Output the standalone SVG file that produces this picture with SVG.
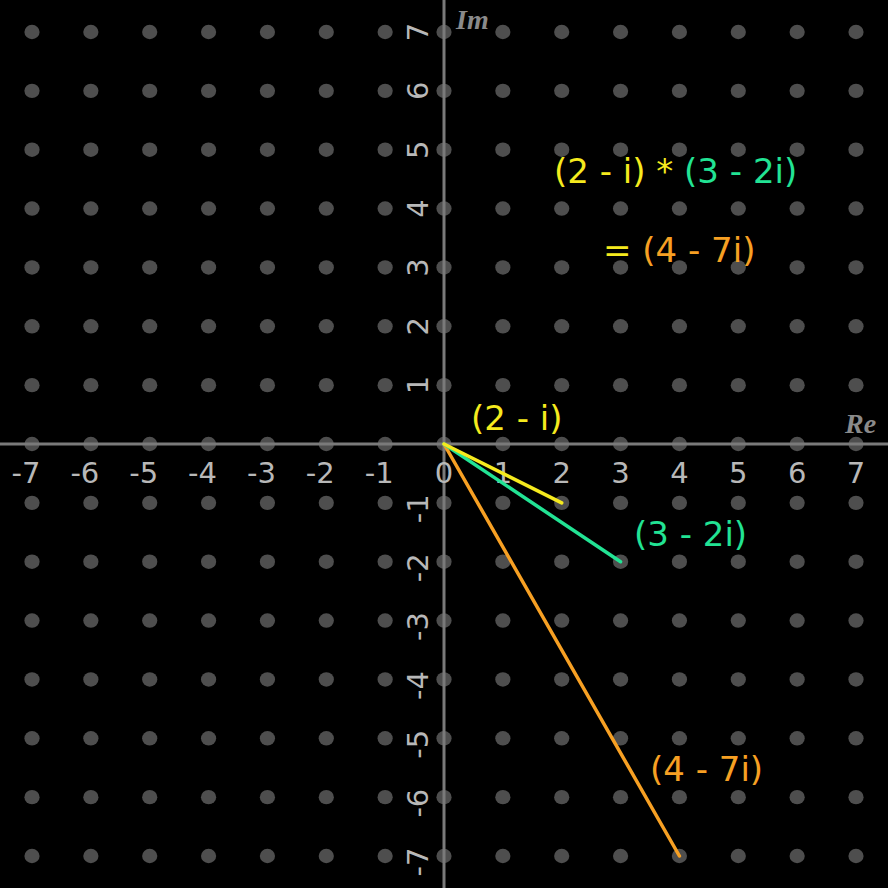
<svg xmlns="http://www.w3.org/2000/svg" xmlns:xlink="http://www.w3.org/1999/xlink" width="888" height="888" viewBox="0 0 888 888">
<style>
.dot{fill:#4e4e4e}
.axis{stroke:#7a7a7a;stroke-width:3}
.tick{font-family:"DejaVu Sans",sans-serif;font-size:29px;fill:#b8b8b8;text-anchor:middle}
.axn{font-family:"Liberation Serif",serif;font-style:italic;font-weight:bold;font-size:28px;fill:#8a8a8a}
.lbl{font-family:"DejaVu Sans",sans-serif;font-size:34px}
.y{fill:#f5ea1e}.g{fill:#22e394}.o{fill:#f7a023}
.vec{stroke-width:3.5;stroke-linecap:round;fill:none}
</style>
<defs>
<g id="row">
<ellipse class="dot" cx="32" cy="0" rx="7.6" ry="7.2"/><ellipse class="dot" cx="90.86" cy="0" rx="7.6" ry="7.2"/><ellipse class="dot" cx="149.71" cy="0" rx="7.6" ry="7.2"/><ellipse class="dot" cx="208.57" cy="0" rx="7.6" ry="7.2"/><ellipse class="dot" cx="267.43" cy="0" rx="7.6" ry="7.2"/><ellipse class="dot" cx="326.29" cy="0" rx="7.6" ry="7.2"/><ellipse class="dot" cx="385.14" cy="0" rx="7.6" ry="7.2"/><ellipse class="dot" cx="444" cy="0" rx="7.6" ry="7.2"/><ellipse class="dot" cx="502.86" cy="0" rx="7.6" ry="7.2"/><ellipse class="dot" cx="561.71" cy="0" rx="7.6" ry="7.2"/><ellipse class="dot" cx="620.57" cy="0" rx="7.6" ry="7.2"/><ellipse class="dot" cx="679.43" cy="0" rx="7.6" ry="7.2"/><ellipse class="dot" cx="738.29" cy="0" rx="7.6" ry="7.2"/><ellipse class="dot" cx="797.14" cy="0" rx="7.6" ry="7.2"/><ellipse class="dot" cx="856" cy="0" rx="7.6" ry="7.2"/>
</g>
</defs>
<rect width="888" height="888" fill="#000"/>
<g id="grid">
<use xlink:href="#row" href="#row" y="32"/><use xlink:href="#row" href="#row" y="90.86"/><use xlink:href="#row" href="#row" y="149.71"/><use xlink:href="#row" href="#row" y="208.57"/><use xlink:href="#row" href="#row" y="267.43"/><use xlink:href="#row" href="#row" y="326.29"/><use xlink:href="#row" href="#row" y="385.14"/><use xlink:href="#row" href="#row" y="444"/><use xlink:href="#row" href="#row" y="502.86"/><use xlink:href="#row" href="#row" y="561.71"/><use xlink:href="#row" href="#row" y="620.57"/><use xlink:href="#row" href="#row" y="679.43"/><use xlink:href="#row" href="#row" y="738.29"/><use xlink:href="#row" href="#row" y="797.14"/><use xlink:href="#row" href="#row" y="856"/>
</g>
<g id="axes">
<line class="axis" x1="444" y1="0" x2="444" y2="888"/>
<line class="axis" x1="0" y1="444" x2="888" y2="444"/>
</g>
<g id="x-ticks">
<text class="tick" x="26" y="483">-7</text>
<text class="tick" x="84.86" y="483">-6</text>
<text class="tick" x="143.71" y="483">-5</text>
<text class="tick" x="202.57" y="483">-4</text>
<text class="tick" x="261.43" y="483">-3</text>
<text class="tick" x="320.29" y="483">-2</text>
<text class="tick" x="379.14" y="483">-1</text>
<text class="tick" x="444" y="483">0</text>
<text class="tick" x="502.86" y="483">1</text>
<text class="tick" x="561.71" y="483">2</text>
<text class="tick" x="620.57" y="483">3</text>
<text class="tick" x="679.43" y="483">4</text>
<text class="tick" x="738.29" y="483">5</text>
<text class="tick" x="797.14" y="483">6</text>
<text class="tick" x="856" y="483">7</text>
</g>
<g id="y-ticks">
<text class="tick" transform="translate(428,32) rotate(-90)">7</text>
<text class="tick" transform="translate(428,90.86) rotate(-90)">6</text>
<text class="tick" transform="translate(428,149.71) rotate(-90)">5</text>
<text class="tick" transform="translate(428,208.57) rotate(-90)">4</text>
<text class="tick" transform="translate(428,267.43) rotate(-90)">3</text>
<text class="tick" transform="translate(428,326.29) rotate(-90)">2</text>
<text class="tick" transform="translate(428,385.14) rotate(-90)">1</text>
<text class="tick" transform="translate(428,502.86) rotate(-90)" x="-6">-1</text>
<text class="tick" transform="translate(428,561.71) rotate(-90)" x="-6">-2</text>
<text class="tick" transform="translate(428,620.57) rotate(-90)" x="-6">-3</text>
<text class="tick" transform="translate(428,679.43) rotate(-90)" x="-6">-4</text>
<text class="tick" transform="translate(428,738.29) rotate(-90)" x="-6">-5</text>
<text class="tick" transform="translate(428,797.14) rotate(-90)" x="-6">-6</text>
<text class="tick" transform="translate(428,856) rotate(-90)" x="-6">-7</text>
</g>
<g id="axis-names">
<text class="axn" x="456" y="29">Im</text>
<text class="axn" x="845" y="433">Re</text>
</g>
<g id="connectors">
<line class="vec" x1="444" y1="444" x2="679.43" y2="856" stroke="#f7a023"/>
<line class="vec" x1="444" y1="444" x2="620.57" y2="561.71" stroke="#22e394"/>
<line class="vec" x1="444" y1="444" x2="561.71" y2="502.86" stroke="#f5ea1e"/>
</g>
<g id="labels">
<text class="lbl y" x="471" y="430">(2 - i)</text>
<text class="lbl g" x="634" y="546">(3 - 2i)</text>
<text class="lbl o" x="650" y="781">(4 - 7i)</text>
<text class="lbl" x="554" y="183"><tspan class="y">(2 - i) * </tspan><tspan class="g">(3 - 2i)</tspan></text>
<text class="lbl" x="603" y="262"><tspan class="y">= </tspan><tspan class="o">(4 - 7i)</tspan></text>
</g>
</svg>
